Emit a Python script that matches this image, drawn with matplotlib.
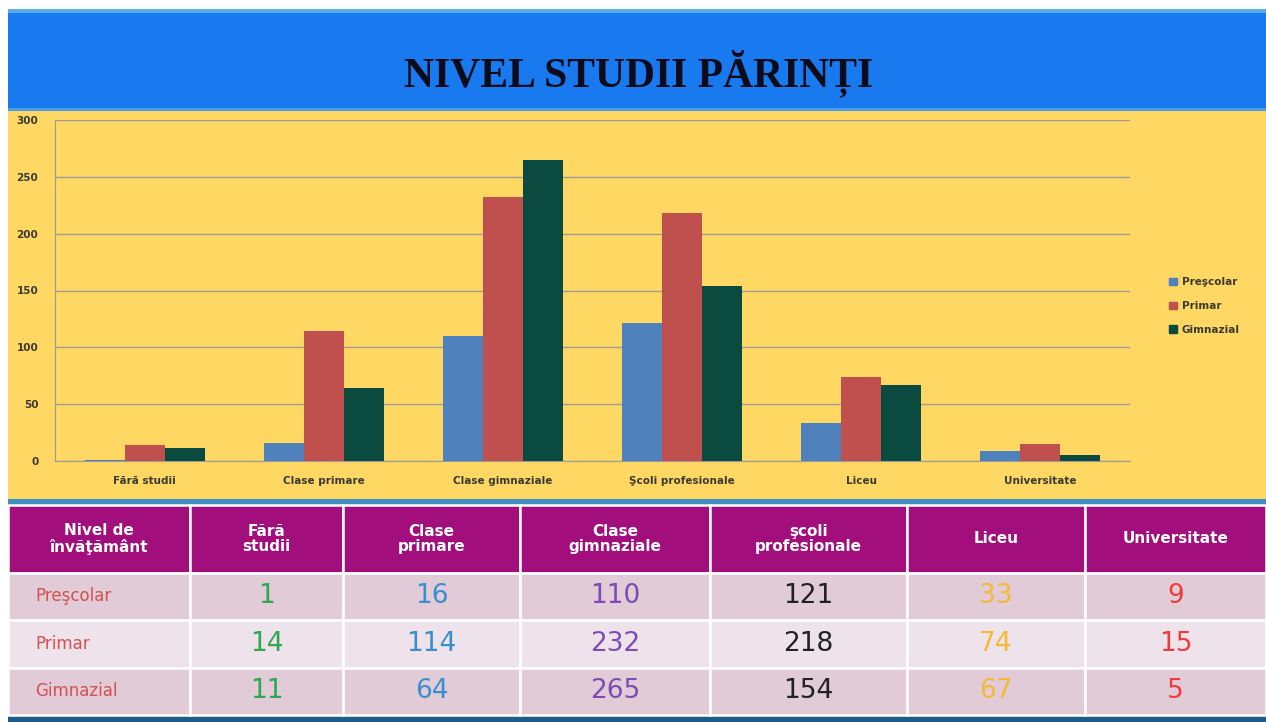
import matplotlib.pyplot as plt
import numpy as np
from matplotlib.patches import Rectangle, Patch

# data
categories = ["Fără studii", "Clase primare", "Clase gimnaziale",
              "Şcoli profesionale", "Liceu", "Universitate"]
series = ["Preşcolar", "Primar", "Gimnazial"]
prescolar = [1, 16, 110, 121, 33, 9]
primar = [14, 114, 232, 218, 74, 15]
gimnazial = [11, 64, 265, 154, 67, 5]
headers = ["Nivel de\nînvăţământ", "Fără\nstudii", "Clase\nprimare", "Clase\ngimnaziale",
           "şcoli\nprofesionale", "Liceu", "Universitate"]

bar_colors = ["#4F81BD", "#C0504D", "#0B4A3E"]
value_colors = ["#2DA84E", "#3A8ED0", "#7E4BB6", "#222222", "#F5B935", "#F03B3B"]

W, H = 1266, 722
fig = plt.figure(figsize=(W / 100, H / 100), dpi=100)
fig.patch.set_facecolor("white")


def band(x0, y0, x1, y1, color):
    # background block given in pixel coords (from top-left)
    fig.add_artist(Rectangle((x0 / W, 1 - y1 / H), (x1 - x0) / W, (y1 - y0) / H,
                             transform=fig.transFigure, color=color, zorder=0, lw=0))


band(8, 9, W, 13, "#58ACEA")
band(8, 13, W, 110, "#1979EF")
band(8, 108, W, 111, "#4C9BE6")
band(8, 111, W, 499, "#FED862")
band(8, 499, W, 505, "#3F8EC2")
band(8, 715, W, H, "#1D5C8B")

fig.text(639 / W, 1 - 73 / H, "NIVEL STUDII PĂRINȚI", ha="center", va="center",
         fontsize=30, fontweight="bold", family="Liberation Serif", color="#0B0B1A")

# chart
ax = fig.add_axes([55 / W, 1 - 461 / H, 1075 / W, 341 / H])
ax.set_facecolor("none")
x = np.arange(len(categories))
w = 0.223
for i, (vals, name) in enumerate(zip([prescolar, primar, gimnazial], series)):
    ax.bar(x + (i - 1) * w, vals, width=w, color=bar_colors[i], label=name, zorder=3)

ax.set_xlim(-0.5, len(categories) - 0.5)
ax.set_ylim(0, 300)
ax.set_yticks(np.arange(0, 301, 50))
ax.set_xticks(x)
ax.set_xticklabels(categories)
ax.grid(axis="y", color="#9C9C9C", lw=1, zorder=0)
for s in ["top", "right"]:
    ax.spines[s].set_visible(False)
for s in ["left", "bottom"]:
    ax.spines[s].set_color("#9C9C9C")
ax.tick_params(axis="y", length=0, pad=12, labelsize=7.5, labelcolor="#3A3A30")
ax.tick_params(axis="x", length=0, pad=11, labelsize=7.5, labelcolor="#3A3A30")
for t in ax.get_xticklabels() + ax.get_yticklabels():
    t.set_family("DejaVu Sans")
    t.set_fontweight("bold")

handles = [Patch(color=c) for c in bar_colors]
leg = fig.legend(handles, series, loc="center left", bbox_to_anchor=(1160 / W, 1 - 306 / H),
                 frameon=False, handlelength=0.7, handleheight=0.7,
                 labelspacing=1.3, handletextpad=0.5,
                 prop={"family": "DejaVu Sans", "size": 7.5, "weight": "bold"})
for t in leg.get_texts():
    t.set_color("#3A3A30")

# table
tax = fig.add_axes([8 / W, 1 - 715 / H, (W - 8) / W, 210 / H])
tax.axis("off")
edges = [8, 190, 343, 520, 710, 907, 1085, 1266]
col_w = np.diff(edges) / (edges[-1] - edges[0])
cell_text = [[name] + [str(v) for v in vals]
             for name, vals in zip(series, [prescolar, primar, gimnazial])]
tbl = tax.table(cellText=cell_text, colLabels=headers, colWidths=col_w,
                cellLoc="center", bbox=[0, 0, 1, 1])
tbl.auto_set_font_size(False)
row_bg = ["#E0CBD7", "#EEE3EA", "#E0CBD7"]
for (r, c), cell in tbl.get_celld().items():
    cell.set_edgecolor("white")
    cell.set_linewidth(1.8)
    txt = cell.get_text()
    txt.set_family("DejaVu Sans")
    if r == 0:
        cell.set_height(67)
        cell.set_facecolor("#A20F7C")
        txt.set_color("white")
        txt.set_fontweight("bold")
        txt.set_fontsize(11)
        txt.set_linespacing(1.05)
    else:
        cell.set_height(47)
        cell.set_facecolor(row_bg[r - 1])
        if c == 0:
            cell._loc = "left"
            cell.PAD = 0.15
            txt.set_ha("left")
            txt.set_color("#D2504E")
            txt.set_fontsize(12)
        else:
            txt.set_color(value_colors[c - 1])
            txt.set_fontsize(19)

fig.savefig("out.png", dpi=100)
